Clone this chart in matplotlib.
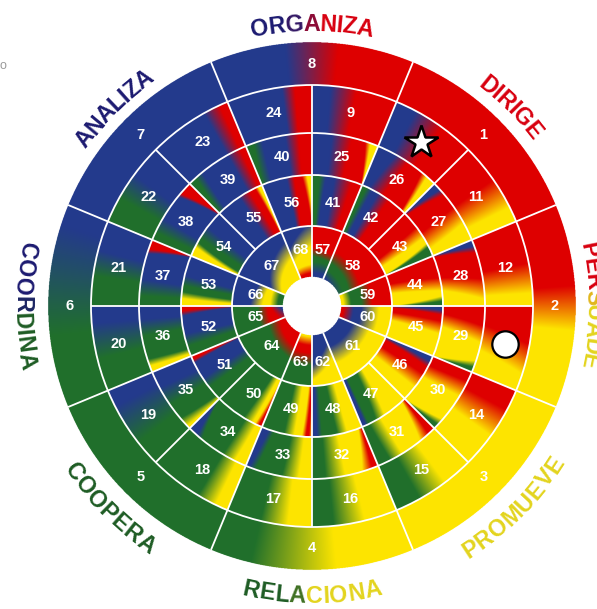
import numpy as np
import matplotlib
matplotlib.use("Agg")
import matplotlib.pyplot as plt
from matplotlib.patches import Circle
from matplotlib.font_manager import FontProperties, fontManager
from matplotlib.colors import to_rgb

# ---------------- data ----------------
PALETTE = {"B": "#243a8c", "R": "#de0000", "Y": "#fde500", "G": "#20702b"}

# cell numbers of each ring, clockwise
RING_E_LABELS = [8, 1, 2, 3, 4, 5, 6, 7]
RING_D_LABELS = [9, 10, 11, 12, 13, 14, 15, 16, 17, 18, 19, 20, 21, 22, 23, 24]
RING_C_LABELS = [25, 26, 27, 28, 29, 30, 31, 32, 33, 34, 35, 36, 37, 38, 39, 40]
RING_B_LABELS = [41, 42, 43, 44, 45, 46, 47, 48, 49, 50, 51, 52, 53, 54, 55, 56]
RING_A_LABELS = [57, 58, 59, 60, 61, 62, 63, 64, 65, 66, 67, 68]

# cell edges (degrees, clockwise)
RING_E_EDGES = [112.5 - 45 * k for k in range(9)]
RING_BCD_EDGES = [90 - 22.5 * k for k in range(17)]
RING_A_EDGES = [90, 67.5, 22.5, 0, -22.5, -67.5, -90, -112.5, -157.5, -180, -202.5, -247.5, -270]

# colour stops per cell: (colour, position at inner/left, position at outer/right)
STOPS_E = {
    8: [("B", .37, .37), ("R", .63, .63)],
    1: [("R", 0, 0)],
    2: [("R", .4, .4), ("Y", .62, .62)],
    3: [("Y", 0, 0)],
    4: [("Y", .38, .38), ("G", .8, .8)],
    5: [("G", 0, 0)],
    6: [("G", .35, .35), ("B", .9, .9)],
    7: [("B", 0, 0)],
}
STOPS_D = {
    9: [("B", .22, .22), ("R", .52, .52)],
    10: [("B", .25, .25), ("R", .6, .6)],
    11: [("R", .45, .45), ("Y", .82, .82)],
    12: [("R", .5, .5), ("Y", .85, .85)],
    13: [("R", .28, .45), ("Y", .65, .8)],
    14: [("R", .25, .25), ("Y", .6, .6)],
    15: [("Y", .35, .35), ("G", .7, .7)],
    16: [("Y", .38, .38), ("G", .75, .75)],
    17: [("Y", .28, .28), ("G", .6, .6)],
    18: [("Y", .15, .15), ("G", .38, .38)],
    19: [("G", .3, .3), ("B", .8, .8)],
    20: [("G", .38, .38), ("B", .8, .8)],
    21: [("G", .35, .35), ("B", .65, .65)],
    22: [("G", .3, .3), ("B", .62, .62)],
    23: [("B", .7, .7), ("R", .9, .9)],
    24: [("B", .65, .65), ("R", .8, .8)],
}
STOPS_C = {
    25: [("B", .3, .3), ("R", .6, .6), ("R", .98, .8), ("Y", 1.0, .88)],
    26: [("B", .15, .3), ("R", .45, .5), ("R", .92, .75), ("Y", .97, .85)],
    27: [("B", 0, .12), ("R", .05, .22), ("R", .5, .45), ("Y", .85, .72)],
    28: [("B", 0, .1), ("R", .03, .2), ("R", .45, .6), ("Y", .7, .9)],
    29: [("R", .15, .3), ("Y", .4, .55), ("Y", 1.0, .82), ("G", 1.02, .92)],
    30: [("R", .2, .15), ("Y", .45, .4), ("Y", 1.0, .82), ("G", 1.02, .92)],
    31: [("R", 0, .05), ("R", .02, .12), ("Y", .08, .28), ("Y", .6, .6), ("G", .85, .8)],
    32: [("R", 0, 0), ("R", .02, .1), ("Y", .08, .25), ("Y", .5, .5), ("G", .8, .8)],
    33: [("Y", .15, .2), ("G", .4, .45), ("G", .75, .85), ("B", .85, .95)],
    34: [("Y", .12, .18), ("G", .35, .38), ("G", 1.0, .75), ("B", 1.02, .85)],
    35: [("Y", 0, .05), ("G", .08, .2), ("G", .4, .45), ("B", .7, .75)],
    36: [("Y", .05, .1), ("G", .15, .2), ("G", .55, .55), ("B", .8, .8)],
    37: [("G", .15, .15), ("B", .4, .4), ("B", .97, .78), ("R", 1.0, .85)],
    38: [("G", .12, .12), ("B", .35, .35), ("B", .96, .74), ("R", 1.0, .8)],
    39: [("G", 0, .05), ("G", .02, .12), ("B", .15, .25), ("B", .7, .7), ("R", .92, .9)],
    40: [("G", 0, .03), ("G", .02, .12), ("B", .2, .25), ("B", .6, .6), ("R", .8, .8)],
}
STOPS_B = {
    41: [("G", .1, .15), ("B", .2, .28), ("B", .45, .45), ("R", .8, .8)],
    42: [("G", .06, .1), ("B", .2, .22), ("B", .35, .35), ("R", .6, .6)],
    43: [("R", .45, .35), ("Y", .7, .6), ("Y", .97, .72), ("G", 1.0, .8)],
    44: [("R", .3, .45), ("Y", .6, .7), ("Y", 1.0, .8), ("G", 1.02, .9)],
    45: [("B", 0, .08), ("R", .05, .18), ("R", .2, .3), ("Y", .45, .55)],
    46: [("B", 0, .1), ("B", .02, .12), ("R", .1, .25), ("R", .35, .4), ("Y", .7, .7)],
    47: [("Y", .3, .5), ("G", .5, .7), ("G", .85, .85), ("B", .92, .92)],
    48: [("Y", .3, .3), ("G", .55, .5), ("G", .8, .8), ("B", .92, .9)],
    49: [("Y", 0, 0), ("R", 0, .06), ("R", .02, .12), ("Y", .1, .2), ("Y", .3, .35), ("G", .55, .55)],
    50: [("R", -.1, .02), ("R", -.05, .07), ("Y", .02, .15), ("Y", .12, .2), ("G", .3, .4)],
    51: [("G", .25, .3), ("B", .55, .5), ("B", .95, .85), ("R", 1.0, .92)],
    52: [("G", .2, .2), ("B", .45, .45), ("B", .95, .8), ("R", 1.0, .9)],
    53: [("Y", .08, .15), ("G", .2, .28), ("G", .35, .4), ("B", .55, .6)],
    54: [("Y", .02, .2), ("G", .1, .3), ("G", .3, .4), ("B", .6, .65)],
    55: [("B", .5, .5), ("R", .8, .72), ("R", .95, .85), ("Y", 1.0, .92)],
    56: [("B", .5, .5), ("R", .65, .65), ("R", 1.0, .8), ("Y", 1.05, .9)],
}
# ring A: radial stops (colour, radial position at left edge, at right edge)
STOPS_A = {
    57: [("B", .08, .08), ("G", .3, .3), ("G", .4, .35), ("R", .6, .5)],
    58: [("B", .05, -.2), ("G", .2, .1), ("G", .35, .2), ("R", .6, .45)],
    59: [("Y", .05, .05), ("G", .2, .2), ("G", .4, .4), ("R", .62, .62)],
    60: [("R", .05, .05), ("B", .25, .25), ("B", .4, .4), ("Y", .75, .75)],
    61: [("B", .3, .3), ("Y", .65, .65)],
    62: [("B", .2, .6), ("Y", .5, .9)],
    63: [("Y", .03, .03), ("R", .2, .2), ("R", .35, .35), ("G", .6, .6)],
    64: [("R", .3, .1), ("G", .55, .35)],
    65: [("B", -.2, .1), ("R", .1, .25), ("R", .3, .3), ("G", .5, .5)],
    66: [("G", .05, .05), ("G", .1, .1), ("Y", .25, .25), ("Y", .4, .35), ("B", .65, .55)],
    67: [("Y", .05, .45), ("B", .3, .8)],
    68: [("R", .05, .08), ("Y", .2, .25), ("Y", .35, .6), ("B", .6, 1.1)],
}

STAR_CELL = 10
CIRCLE_CELL = 13

SECTION_NAMES = ["ORGANIZA", "DIRIGE", "PERSUADE", "PROMUEVE",
                 "RELACIONA", "COOPERA", "COORDINA", "ANALIZA"]
SECTION_ANGLES = [90, 45, 0, -45, -90, -135, 180, 135]
SECTION_COLOR_FROM = ["#1c1a70", "#d8000f", "#d8000f", "#e3d41e",
                      "#1e5c24", "#1e5c24", "#1c1a70", "#1c1a70"]
SECTION_COLOR_TO = ["#d8000f", "#d8000f", "#e3d41e", "#e3d41e",
                    "#e3d41e", "#1e5c24", "#1e5c24", "#1c1a70"]
SECTION_RAMP = [(.25, .55), (0, 1), (.3, .45), (0, 1),
                (.35, .5), (0, 1), (.4, .57), (0, 1)]

# ---------------- layout ----------------
R_HOLE, R_A, R_B, R_C, R_D, R_E = 29, 80, 131, 173, 221, 264
RINGS = [
    (R_HOLE, R_A, RING_A_EDGES, RING_A_LABELS, "r", STOPS_A),
    (R_A, R_B, RING_BCD_EDGES, RING_B_LABELS, "a", STOPS_B),
    (R_B, R_C, RING_BCD_EDGES, RING_C_LABELS, "a", STOPS_C),
    (R_C, R_D, RING_BCD_EDGES, RING_D_LABELS, "a", STOPS_D),
    (R_D, R_E, RING_E_EDGES, RING_E_LABELS, "a", STOPS_E),
]


def shade(u, v, mode, stops):
    s = u if mode == "a" else v
    t = v if mode == "a" else u
    cols = np.array([to_rgb(PALETTE[c]) for c, _, _ in stops])
    pos = np.array([p0 + (p1 - p0) * t for _, p0, p1 in stops])
    pos = np.maximum.accumulate(pos, axis=0)
    out = np.tile(cols[0], (len(s), 1))
    for i in range(len(stops) - 1):
        a, b = pos[i], pos[i + 1]
        w = np.clip((s - a) / np.maximum(b - a, 1e-6), 0, 1)
        seg = cols[i] + (cols[i + 1] - cols[i]) * w[:, None]
        out = np.where((s >= a)[:, None], seg, out)
    return out


fig = plt.figure(figsize=(5.97, 6.09), dpi=100)
ax = fig.add_axes([0, 0, 1, 1])
ax.axis("off")

SS = 3
half = 266
n = 2 * half * SS
coords = -half + (np.arange(n) + 0.5) / SS
X, Y = np.meshgrid(coords, coords[::-1])
RR = np.hypot(X, Y)
TH = np.degrees(np.arctan2(Y, X))
img = np.ones((n, n, 4))
img[..., 3] = 0.0

cell_geom = {}
for r0, r1, edges, labels, mode, stops in RINGS:
    ring = (RR >= r0) & (RR < r1)
    iy, ix = np.nonzero(ring)
    th = TH[iy, ix]
    rr = RR[iy, ix]
    for k, lab in enumerate(labels):
        a0, a1 = edges[k], edges[k + 1]
        width = a0 - a1
        cell_geom[lab] = (r0, r1, a0, a1)
        a = np.mod(th - a1, 360)
        m = a < width
        u = 1 - a[m] / width
        v = (rr[m] - r0) / (r1 - r0)
        col = shade(u, v, mode, stops[lab])
        img[iy[m], ix[m], :3] = col
        img[iy[m], ix[m], 3] = 1.0

ax.imshow(img, extent=(-half, half, -half, half), interpolation="antialiased", zorder=1)

# white separators
LW = 1.3
for rad in (R_A, R_B, R_C, R_D):
    ax.add_patch(Circle((0, 0), rad, fill=False, ec="white", lw=LW, zorder=3))
for r0, r1, edges, labels, mode, stops in RINGS:
    for ang in edges[:-1]:
        t = np.radians(ang)
        ax.plot([r0 * np.cos(t), r1 * np.cos(t)], [r0 * np.sin(t), r1 * np.sin(t)],
                color="white", lw=LW, zorder=3, solid_capstyle="butt")

# cell numbers
num_font = dict(family="Liberation Sans", weight="bold", size=10.5, color="white")
for lab, (r0, r1, a0, a1) in cell_geom.items():
    if lab in (STAR_CELL, CIRCLE_CELL):
        continue
    mid = np.radians((a0 + a1) / 2)
    rl = 57 if r0 == R_HOLE else (r0 + r1) / 2
    ax.text(rl * np.cos(mid), rl * np.sin(mid), str(lab), ha="center", va="center",
            zorder=5, **num_font)

# markers
for lab, mk, ms, mew in ((STAR_CELL, "*", 25, 1.8), (CIRCLE_CELL, "o", 19, 1.6)):
    r0, r1, a0, a1 = cell_geom[lab]
    mid = np.radians((a0 + a1) / 2)
    rl = (r0 + r1) / 2
    ax.plot([rl * np.cos(mid)], [rl * np.sin(mid)], marker=mk, ms=ms, mfc="white",
            mec="black", mew=mew, zorder=6)

# curved section names
fig.canvas.draw()
renderer = fig.canvas.get_renderer()
available = {f.name for f in fontManager.ttflist}
if "Liberation Sans Narrow" in available:
    fp = FontProperties(family="Liberation Sans Narrow", weight="bold", size=20)
else:
    fp = FontProperties(family="Liberation Sans", weight="bold", size=17)


def text_w(s):
    if not s:
        return 0.0
    return renderer.get_text_width_height_descent(s, fp, ismath=False)[0]


# scale so that the top label spans the same arc as in the reference
fp.set_size(fp.get_size() * 124.0 / text_w("ORGANIZA"))

R_MID = 286
for name, ang, cf, ct, (ra, rb) in zip(SECTION_NAMES, SECTION_ANGLES, SECTION_COLOR_FROM,
                                       SECTION_COLOR_TO, SECTION_RAMP):
    top = name in ("ORGANIZA", "DIRIGE", "PERSUADE", "ANALIZA")
    total = text_w(name)
    nl = len(name)
    c0, c1 = np.array(to_rgb(cf)), np.array(to_rgb(ct))
    for i, ch in enumerate(name):
        xc = (text_w(name[:i]) + text_w(name[:i + 1])) / 2 - total / 2
        dth = np.degrees(xc / R_MID)
        if top:
            th = ang - dth
            rb_ = 275
            rot = th - 90
        else:
            th = ang + dth
            rb_ = 297
            rot = th + 90
        f = i / (nl - 1)
        w = np.clip((f - ra) / max(rb - ra, 1e-6), 0, 1)
        col = c0 + (c1 - c0) * w
        t = np.radians(th)
        ax.text(rb_ * np.cos(t), rb_ * np.sin(t), ch, fontproperties=fp, color=col,
                rotation=rot, rotation_mode="anchor", ha="center", va="baseline", zorder=5)

ax.text(-309, 240, "o", ha="center", va="center", fontsize=9, color="#999999",
        family="Liberation Sans")

ax.set_xlim(-312, 285)
ax.set_ylim(-303, 306)
fig.savefig("out.png", dpi=100)
